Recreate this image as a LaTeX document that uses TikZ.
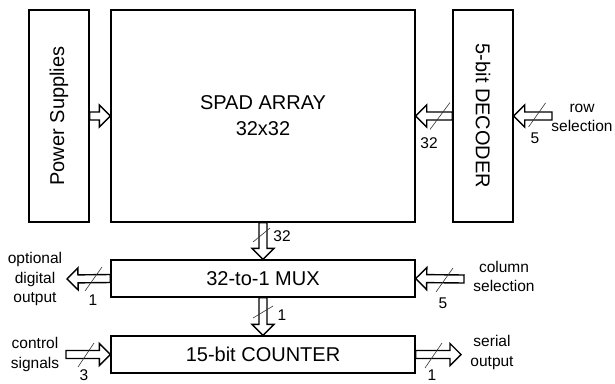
\documentclass[tikz,border=0pt]{standalone}
\usepackage{fontspec}
\setmainfont{Liberation Sans}
\usetikzlibrary{calc}
\tikzset{
  x=1pt, y=-1pt,
  blk/.style={draw, line width=1.4pt, inner sep=0pt, align=center, font=\fontsize{20}{26}\selectfont},
  arr/.style={draw, line width=1.4pt, line join=miter, fill=white},
  slash/.style={draw, line width=0.6pt, black!80},
  lbl/.style={inner sep=0pt, align=center, font=\fontsize{15.5}{19.5}\selectfont},
}
\newcommand{\barrow}[2]{%
  \path #1 coordinate (ba1) #2 coordinate (ba2);
  \path ($(ba2)!11pt!(ba1)$) coordinate (bah);
  \draw[arr] ($(ba1)!4pt!90:(ba2)$) -- ($(bah)!4pt!90:(ba2)$) -- ($(bah)!11pt!90:(ba2)$) -- (ba2)
     -- ($(bah)!11pt!-90:(ba2)$) -- ($(bah)!4pt!-90:(ba2)$) -- ($(ba1)!4pt!-90:(ba2)$) -- cycle;}
\begin{document}
\begin{tikzpicture}
\useasboundingbox (0,0) rectangle (615,383);
% blocks
\node[blk, minimum width=60pt, minimum height=212pt] (ps) at (59,116) {};
\node[rotate=90, font=\fontsize{20}{26}\selectfont, inner sep=0pt] (pst) at (59,116) {Power Supplies};
\node[blk, minimum width=304pt, minimum height=212pt] (spad) at (263,116) {SPAD ARRAY\\32x32};
\node[blk, minimum width=60pt, minimum height=212pt] (dec) at (483,116) {};
\node[rotate=-90, font=\fontsize{20}{26}\selectfont, inner sep=0pt] (dect) at (483,116) {5-bit DECODER};
\node[blk, minimum width=304pt, minimum height=37pt] (mux) at (263,278.5) {32-to-1 MUX};
\node[blk, minimum width=304pt, minimum height=37pt] (cnt) at (263,354.5) {15-bit COUNTER};
% free ends
\coordinate (rowin) at (552,116);
\coordinate (optout) at (67,279);
\coordinate (colin) at (464,279);
\coordinate (ctlin) at (66,354.5);
\coordinate (serout) at (461,354.5);
% arrows
\barrow{(ps.east)}{(spad.west)}
\barrow{(dec.west)}{(spad.east)}
\barrow{(rowin)}{(dec.east)}
\barrow{(spad.south)}{(mux.north)}
\barrow{(mux.south)}{(cnt.north)}
\barrow{(mux.west)}{(optout)}
\barrow{(colin)}{(mux.east)}
\barrow{(ctlin)}{(cnt.west)}
\barrow{(cnt.east)}{(serout)}
% bus slashes
\draw[slash] (440,116) +(-10,13.5) -- +(10,-13.5);
\draw[slash] (537,115) +(-8.5,12) -- +(8.5,-12);
\draw[slash] (261.5,235) +(-8.5,7) -- +(8.5,-7);
\draw[slash] (263,312) +(-10,6) -- +(10,-6);
\draw[slash] (93.5,279) +(-8.5,12) -- +(8.5,-12);
\draw[slash] (444.5,280) +(-8.5,12) -- +(8.5,-12);
\draw[slash] (86,355) +(-8,12) -- +(8,-12);
\draw[slash] (433.5,355.5) +(-8.5,12.5) -- +(8.5,-12.5);
% labels
\node[lbl] (l1) at (429,143) {32};
\node[lbl] (l2) at (535,138) {5};
\node[lbl] (l3) at (582,118) {row\\selection};
\node[lbl] (l4) at (282,236) {32};
\node[lbl] (l5) at (282,315) {1};
\node[lbl] (l6) at (35,279) {optional\\digital\\output};
\node[lbl] (l7) at (93,300) {1};
\node[lbl] (l8) at (504,276.5) {column\\selection};
\node[lbl] (l9) at (443,303) {5};
\node[lbl] (l10) at (35,354.5) {control\\signals};
\node[lbl] (l11) at (84,375.5) {3};
\node[lbl] (l12) at (492,352.5) {serial\\output};
\node[lbl] (l13) at (432,375.5) {1};
\end{tikzpicture}
\end{document}
